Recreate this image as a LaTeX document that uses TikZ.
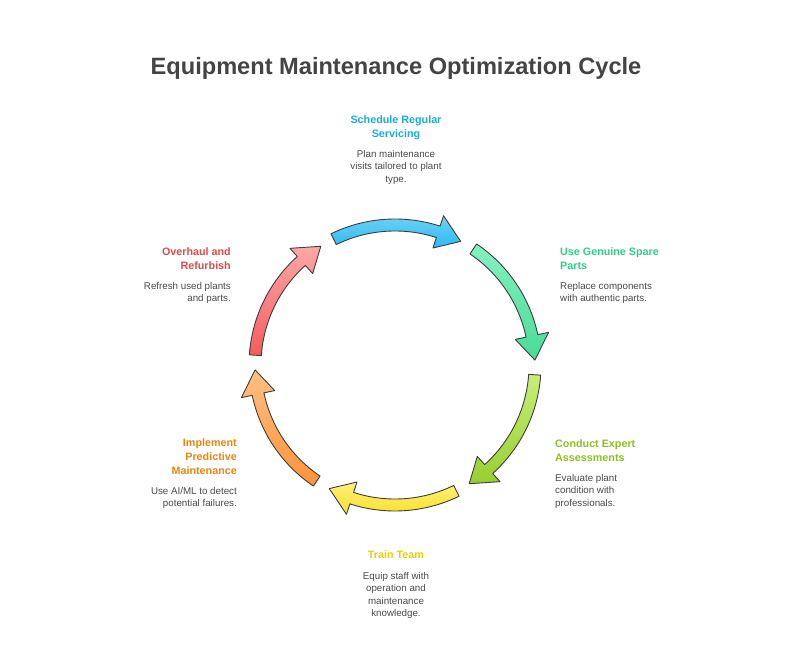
\documentclass[tikz,border=0pt]{standalone}
\usepackage{fontspec}
\setmainfont{Liberation Sans}
\usetikzlibrary{positioning}

\definecolor{titlegray}{HTML}{444444}
\definecolor{txtgray}{HTML}{4A4A4A}
\definecolor{edgegray}{HTML}{3E3E3E}
\definecolor{blueT}{HTML}{17ADDD}
\definecolor{greenT}{HTML}{2CCF86}
\definecolor{limeT}{HTML}{8CC21E}
\definecolor{yellowT}{HTML}{E3D000}
\definecolor{orangeT}{HTML}{EE850F}
\definecolor{redT}{HTML}{E54848}
\definecolor{blueL}{HTML}{6FD3F8}
\definecolor{blueD}{HTML}{2DB9F1}
\definecolor{greenL}{HTML}{86F0BF}
\definecolor{greenD}{HTML}{48DC98}
\definecolor{limeL}{HTML}{C7EE78}
\definecolor{limeD}{HTML}{97CF2E}
\definecolor{yellowL}{HTML}{FFF07A}
\definecolor{yellowD}{HTML}{F8E02A}
\definecolor{orangeL}{HTML}{FFC083}
\definecolor{orangeD}{HTML}{FF9239}
\definecolor{redL}{HTML}{FFA7A7}
\definecolor{redD}{HTML}{F25C5C}

\begin{document}
\begin{tikzpicture}[x=1bp, y=1bp,
  hd/.style={font=\fontsize{10.8}{14}\selectfont\bfseries, inner sep=0pt},
  desc/.style={font=\fontsize{9.8}{12.3}\selectfont, text=txtgray, inner sep=0pt},
  cyc/.style={draw=edgegray, line width=0.9bp, line join=round}]
\useasboundingbox (-395,-301) rectangle (397,365);

\node[font=\fontsize{23.7}{26}\selectfont\bfseries, text=titlegray] (title) at (1,297)
  {Equipment Maintenance Optimization Cycle};

% six curved arrows, clockwise
\foreach \s/\cl/\cd in {116/blueL/blueD, 56/greenL/greenD, -4/limeL/limeD,
                        -64/yellowL/yellowD, -124/orangeL/orangeD, 176/redL/redD} {
  \pgfmathsetmacro\e{\s-54}
  \pgfmathsetmacro\h{\e+10}
  \draw[cyc, top color=\cl, bottom color=\cd]
    (\s:146) arc[start angle=\s, end angle=\h, radius=146] -- (\h:157) -- (\e:140)
    -- (\h:123) -- (\h:134) arc[start angle=\h, end angle=\s, radius=134] -- cycle;
}

% steps
\node[hd, text=blueT, align=center, anchor=north] (h1) at (1,249) {Schedule Regular\\Servicing\strut};
\node[desc, align=center, below=8bp of h1] (d1) {Plan maintenance\\visits tailored to plant\\type.};

\node[hd, text=greenT, align=left, anchor=north west] (h2) at (165,117) {Use Genuine Spare\\Parts\strut};
\node[desc, align=left, below right=8bp and 0bp of h2.south west] (d2) {Replace components\\with authentic parts.};

\node[hd, text=limeT, align=left, anchor=north west] (h3) at (160,-75) {Conduct Expert\\Assessments\strut};
\node[desc, align=left, below right=8bp and 0bp of h3.south west] (d3) {Evaluate plant\\condition with\\professionals.};

\node[hd, text=yellowT, align=center, anchor=north] (h4) at (1,-184) {Train Team\strut};
\node[desc, align=center, below=9bp of h4] (d4) {Equip staff with\\operation and\\maintenance\\knowledge.};

\node[hd, text=orangeT, align=right, anchor=north east] (h5) at (-158,-74) {Implement\\Predictive\\Maintenance\strut};
\node[desc, align=right, below left=8bp and 0bp of h5.south east] (d5) {Use AI/ML to detect\\potential failures.};

\node[hd, text=redT, align=right, anchor=north east] (h6) at (-164,117) {Overhaul and\\Refurbish\strut};
\node[desc, align=right, below left=8bp and 0bp of h6.south east] (d6) {Refresh used plants\\and parts.};
\end{tikzpicture}
\end{document}
